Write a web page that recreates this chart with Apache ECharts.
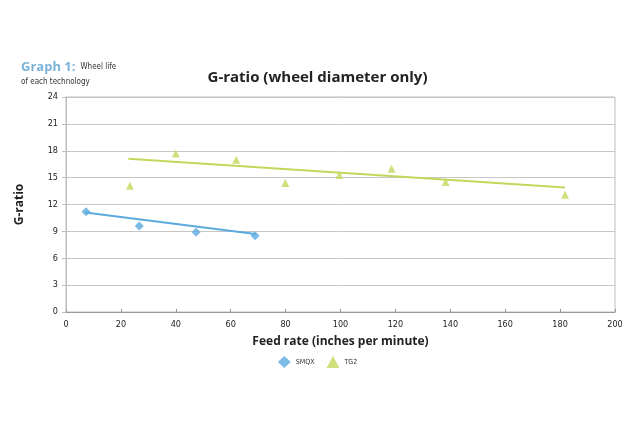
<!DOCTYPE html>
<html>
<head>
<meta charset="utf-8">
<script src="https://cdn.jsdelivr.net/npm/echarts@6/dist/echarts.min.js"></script>
<style>
  html, body { margin: 0; padding: 0; background: #fff; }
  #chart { width: 635px; height: 424px; }
</style>
</head>
<body>
<div id="chart"></div>
<script>
// values
let smqxPoints = [[7.3, 11.2], [26.7, 9.6], [47.4, 8.9], [68.9, 8.5]]
let tg2Points = [[23.3, 14.1], [40, 17.7], [62, 17.0], [79.9, 14.4], [99.6, 15.3], [118.6, 16.0], [138.3, 14.5], [181.8, 13.1]]
// trend line ends
let smqxTrend = [[7, 11.1], [69, 8.7]]
let tg2Trend = [[22.7, 17.1], [181.8, 13.9]]

let xTicks = [0, 20, 40, 60, 80, 100, 120, 140, 160, 180, 200]
let yTicks = [0, 3, 6, 9, 12, 15, 18, 21, 24]

let blue = '#5aaade'
let green = '#c5d65c'
let narrow = '"DejaVu Sans Condensed", "Liberation Sans Narrow", sans-serif'

let chart = echarts.init(document.querySelector('#chart'))

chart.setOption({
    animation: false,
    backgroundColor: '#fff',
    title: [
        {
            text: 'G-ratio (wheel diameter only)',
            left: 'center',
            top: 65,
            textStyle: {fontFamily: '"Open Sans", sans-serif', fontSize: 15, fontWeight: 'bold', color: '#222'}
        },
        {
            text: '{a|Graph 1:} {b|Wheel life}\n{b|of each technology}',
            left: 16,
            top: 53,
            textStyle: {
                rich: {
                    a: {fontFamily: '"Open Sans", sans-serif', fontSize: 13, fontWeight: 'bold', color: '#7ab3da', lineHeight: 15},
                    b: {fontFamily: narrow, fontSize: 8, fontWeight: 'normal', color: '#333', lineHeight: 11}
                }
            }
        }
    ],
    legend: {
        data: ['SMQX', 'TG2'],
        bottom: 51,
        left: 'center',
        itemWidth: 13,
        itemHeight: 12,
        itemGap: 12,
        textStyle: {fontFamily: narrow, fontSize: 7, color: '#333'}
    },
    grid: {
        left: 66,
        right: 20,
        top: 97,
        bottom: 112,
        show: true,
        borderColor: '#bdbdbd',
        borderWidth: 1
    },
    xAxis: {
        type: 'value',
        min: 0,
        max: 200,
        interval: 20,
        name: 'Feed rate (inches per minute)',
        nameLocation: 'middle',
        nameGap: 24,
        nameTextStyle: {fontFamily: '"Open Sans", sans-serif', fontSize: 12, fontWeight: 'bold', color: '#222'},
        axisLine: {lineStyle: {color: '#999'}},
        axisTick: {show: true, length: 3, inside: true, lineStyle: {color: '#999'}},
        axisLabel: {fontFamily: narrow, fontSize: 9, color: '#222', margin: 8,
            customValues: xTicks},
        splitLine: {show: false}
    },
    yAxis: {
        type: 'value',
        min: 0,
        max: 24,
        interval: 3,
        name: 'G-ratio',
        nameLocation: 'middle',
        nameGap: 40,
        nameRotate: 90,
        nameTextStyle: {fontFamily: '"Open Sans", sans-serif', fontSize: 12, fontWeight: 'bold', color: '#222'},
        axisLine: {show: true, lineStyle: {color: '#bdbdbd'}},
        axisTick: {show: true, length: 4, lineStyle: {color: '#bdbdbd'}},
        axisLabel: {fontFamily: narrow, fontSize: 9, color: '#222', margin: 8,
            customValues: yTicks},
        splitLine: {lineStyle: {color: '#c6c6c6', width: 1}}
    },
    series: [
        {
            name: 'SMQX',
            type: 'scatter',
            symbol: 'diamond',
            symbolSize: 9,
            itemStyle: {color: blue},
            data: smqxPoints,
            z: 3
        },
        {
            name: 'TG2',
            type: 'scatter',
            symbol: 'triangle',
            symbolSize: 8,
            itemStyle: {color: green},
            data: tg2Points,
            z: 3
        },
        {
            name: 'SMQX trend',
            type: 'line',
            showSymbol: false,
            lineStyle: {color: blue, width: 2},
            data: smqxTrend,
            z: 2
        },
        {
            name: 'TG2 trend',
            type: 'line',
            showSymbol: false,
            lineStyle: {color: green, width: 2},
            data: tg2Trend,
            z: 2
        }
    ]
})
</script>
</body>
</html>
